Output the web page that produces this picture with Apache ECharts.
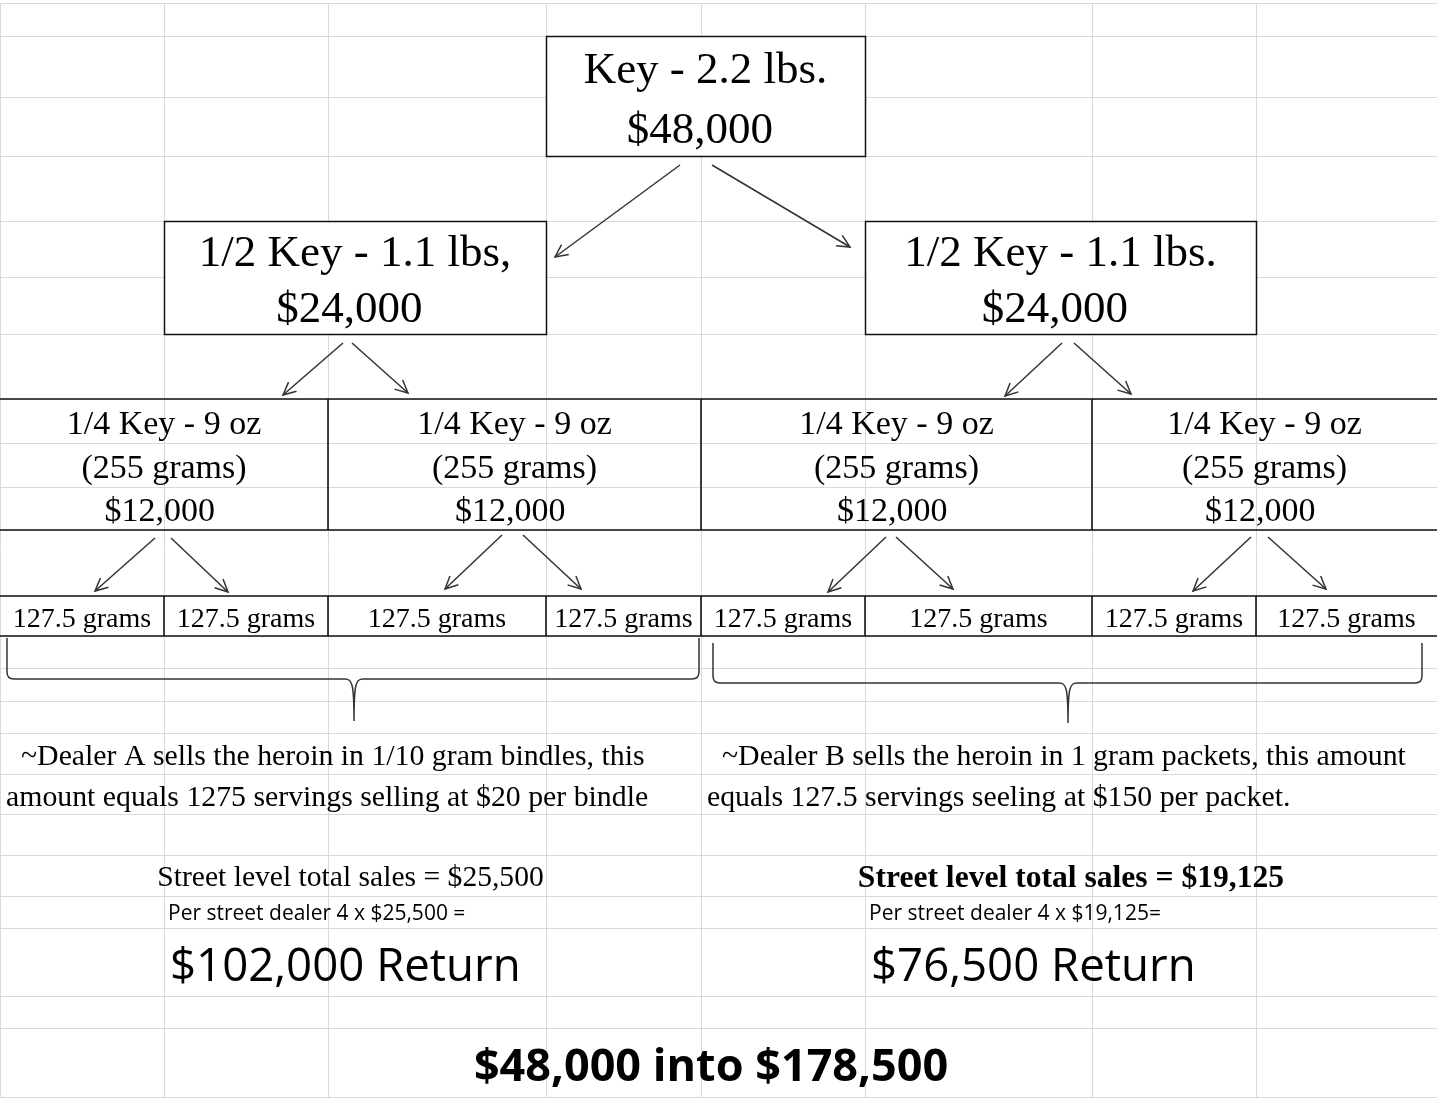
<!DOCTYPE html>
<html>
<head>
<meta charset="utf-8">
<title>Key breakdown</title>
<script src="https://cdn.jsdelivr.net/npm/echarts@6/dist/echarts.min.js"></script>
<style>
html, body { margin: 0; padding: 0; background: #fff; }
#chart { width: 1437px; height: 1099px; }
</style>
</head>
<body>
<div id="chart"></div>
<script>
// sheet geometry: column and row boundaries
const colEdges = [0, 164, 328, 546, 701, 865, 1092, 1256, 1437];
const rowEdges = [3, 36, 97, 156, 221, 277, 334, 399, 443, 487, 530, 596, 636, 668, 701, 733, 774, 814, 855, 896, 928, 996, 1028, 1097];

// labels
const topLabel = ['Key - 2.2 lbs.', '$48,000 '];
const halfLabels = [['1/2 Key - 1.1 lbs,', '$24,000 '], ['1/2 Key - 1.1 lbs.', '$24,000 ']];
const quarterLabel = ['1/4 Key - 9 oz', '(255 grams)', '$12,000 '];
const splitLabel = '127.5 grams';
const dealerNotes = [
  ['~Dealer A sells the heroin in 1/10 gram bindles, this', 'amount equals 1275 servings selling at $20 per bindle'],
  ['~Dealer B sells the heroin in 1 gram packets, this amount', 'equals 127.5 servings seeling at $150 per packet.']
];
const streetSales = ['Street level total sales = $25,500', 'Street level total sales = $19,125'];
const perDealer = ['Per street dealer 4 x $25,500 =', 'Per street dealer 4 x $19,125='];
const returns = ['$102,000 Return', '$76,500 Return'];
const summary = '$48,000 into $178,500';

// arrows: [fromX, fromY, toX, toY]
const arrows = [
  [680, 165, 555, 257], [712, 165, 850, 247],
  [343, 343, 283, 395], [352, 343, 408, 393],
  [1062, 343, 1005, 396], [1074, 343, 1131, 394],
  [155, 538, 95, 591], [171, 538, 228, 592],
  [502, 535, 445, 589], [523, 535, 581, 589],
  [886, 537, 828, 592], [896, 537, 953, 589],
  [1251, 537, 1193, 591], [1268, 537, 1326, 589]
];
// braces: [left, right, top, bar, tipX, tipY]
const braces = [[7, 699, 638, 679, 354, 721], [713, 1422, 643, 683, 1068, 723]];

const serif = '"Liberation Serif", "Times New Roman", serif';
const sans = '"Open Sans", sans-serif';
const fonts = {
  box: '45px ' + serif,
  quarter: '34px ' + serif,
  split: '28px ' + serif,
  note: '29.8px ' + serif,
  sales: '29.6px ' + serif,
  salesBold: 'bold 31.6px ' + serif,
  per: '21px ' + sans,
  ret: '45.6px ' + sans,
  total: 'bold 45px ' + sans
};

const mid = (a, b) => (a + b) / 2;
const texts = [];
function addText(x, y, text, kind, align) {
  texts.push({ x: x, y: y, text: text, kind: kind, align: align || 'center' });
}

// merged boxes (col span, row span)
const boxes = [[3, 5, 1, 3], [1, 3, 4, 6], [5, 7, 4, 6]];
const boxLabels = [topLabel, halfLabels[0], halfLabels[1]];
boxes.forEach(function (b, i) {
  const cx = mid(colEdges[b[0]], colEdges[b[1]]);
  addText(cx, mid(rowEdges[b[2]], rowEdges[b[2] + 1]) + 5, boxLabels[i][0], 'box');
  addText(cx, mid(rowEdges[b[2] + 1], rowEdges[b[3]]) + 5, boxLabels[i][1], 'box');
});

// quarter cells
for (let q = 0; q < 4; q++) {
  const cx = mid(colEdges[q * 2], colEdges[q * 2 + 2]);
  quarterLabel.forEach(function (s, k) {
    addText(cx, mid(rowEdges[7 + k], rowEdges[8 + k]) + 4, s, 'quarter');
  });
}
// split cells
for (let c = 0; c < 8; c++) {
  addText(mid(colEdges[c], colEdges[c + 1]), mid(rowEdges[11], rowEdges[12]) + 4, splitLabel, 'split');
}
// dealer notes, sales and returns (left half from col 0, right half from col 4)
[0, 4].forEach(function (c0, i) {
  const left = colEdges[c0];
  addText(left + 21, mid(rowEdges[15], rowEdges[16]) + 4, dealerNotes[i][0], 'note', 'left');
  addText(left + 6, mid(rowEdges[16], rowEdges[17]) + 4, dealerNotes[i][1], 'note', 'left');
  addText(mid(left, colEdges[c0 + 4]) + (i ? 2 : 0), mid(rowEdges[18], rowEdges[19]) + 3, streetSales[i], i ? 'salesBold' : 'sales');
  addText(colEdges[c0 + 1] + 4, mid(rowEdges[19], rowEdges[20]) + 2, perDealer[i], 'per', 'left');
  addText(colEdges[c0 + 1] + 6, mid(rowEdges[20], rowEdges[21]) + 6, returns[i], 'ret', 'left');
});
addText(mid(colEdges[1], colEdges[7]) + 1, mid(rowEdges[22], rowEdges[23]) + 6, summary, 'total');

// black rules of the lower tiers
const rules = [];
[7, 10, 11, 12].forEach(function (r) {
  rules.push([colEdges[0], rowEdges[r], colEdges[8], rowEdges[r]]);
});
[2, 4, 6].forEach(function (c) {
  rules.push([colEdges[c], rowEdges[7], colEdges[c], rowEdges[10]]);
});
for (let c = 1; c < 8; c++) {
  rules.push([colEdges[c], rowEdges[11], colEdges[c], rowEdges[12]]);
}

// light sheet gridlines
const gridSegs = [];
colEdges.slice(0, 8).forEach(function (x) {
  gridSegs.push([x, rowEdges[0], x, rowEdges[rowEdges.length - 1]]);
});
rowEdges.forEach(function (y) {
  gridSegs.push([colEdges[0], y, colEdges[8], y]);
});

const chart = echarts.init(document.getElementById('chart'));

function segItem(api, color, width, crisp) {
  const a = api.coord([api.value(0), api.value(1)]);
  const b = api.coord([api.value(2), api.value(3)]);
  const o = crisp ? 0.5 : 0;
  return {
    type: 'line',
    shape: { x1: Math.round(a[0]) + o, y1: Math.round(a[1]) + o, x2: Math.round(b[0]) + o, y2: Math.round(b[1]) + o },
    style: { stroke: color, lineWidth: width }
  };
}

const option = {
  animation: false,
  backgroundColor: '#ffffff',
  grid: { left: 0, right: 0, top: 0, bottom: 0 },
  xAxis: { type: 'value', min: 0, max: 1437, show: false },
  yAxis: { type: 'value', min: 0, max: 1099, inverse: true, show: false },
  series: [
    {
      type: 'custom',
      silent: true,
      clip: false,
      z: 1,
      data: gridSegs,
      renderItem: function (params, api) {
        return segItem(api, '#d9d9d9', 1, true);
      }
    },
    {
      type: 'custom',
      silent: true,
      clip: false,
      z: 2,
      data: boxes.map(function (b) {
        return [colEdges[b[0]], rowEdges[b[2]], colEdges[b[1]], rowEdges[b[3]]];
      }),
      renderItem: function (params, api) {
        const a = api.coord([api.value(0), api.value(1)]);
        const b = api.coord([api.value(2), api.value(3)]);
        return {
          type: 'rect',
          shape: { x: Math.round(a[0]) + 0.5, y: Math.round(a[1]) + 0.5, width: Math.round(b[0] - a[0]), height: Math.round(b[1] - a[1]) },
          style: { fill: '#fff', stroke: '#111', lineWidth: 1.5 }
        };
      }
    },
    {
      type: 'custom',
      silent: true,
      clip: false,
      z: 3,
      data: rules,
      renderItem: function (params, api) {
        return segItem(api, '#111', 1.6, false);
      }
    },
    {
      type: 'custom',
      silent: true,
      clip: false,
      z: 4,
      data: arrows,
      renderItem: function (params, api) {
        const a = api.coord([api.value(0), api.value(1)]);
        const b = api.coord([api.value(2), api.value(3)]);
        const ang = Math.atan2(a[1] - b[1], a[0] - b[0]);
        const len = 14, spread = 0.45;
        const h1 = [b[0] + len * Math.cos(ang + spread), b[1] + len * Math.sin(ang + spread)];
        const h2 = [b[0] + len * Math.cos(ang - spread), b[1] + len * Math.sin(ang - spread)];
        const st = { stroke: '#333', lineWidth: 1.5, fill: null };
        return {
          type: 'group',
          children: [
            { type: 'line', shape: { x1: a[0], y1: a[1], x2: b[0], y2: b[1] }, style: st },
            { type: 'polyline', shape: { points: [h1, b, h2] }, style: st }
          ]
        };
      }
    },
    {
      type: 'custom',
      silent: true,
      clip: false,
      z: 4,
      data: braces,
      renderItem: function (params, api) {
        const tl = api.coord([api.value(0), api.value(2)]);
        const br = api.coord([api.value(1), api.value(3)]);
        const tip = api.coord([api.value(4), api.value(5)]);
        const L = tl[0], R = br[0], T = tl[1], B = br[1], X = tip[0], Y = tip[1];
        const r = 7, t = 9;
        const d = [
          'M', L, T, 'L', L, B - r, 'Q', L, B, L + r, B,
          'L', X - t, B, 'C', X - 2, B, X, B + 4, X, Y,
          'C', X, B + 4, X + 2, B, X + t, B,
          'L', R - r, B, 'Q', R, B, R, B - r, 'L', R, T
        ].join(' ');
        return {
          type: 'path',
          shape: { pathData: d },
          style: { stroke: '#333', lineWidth: 1.5, fill: null }
        };
      }
    },
    {
      type: 'custom',
      silent: true,
      clip: false,
      z: 5,
      data: texts.map(function (t) { return [t.x, t.y]; }),
      renderItem: function (params, api) {
        const t = texts[params.dataIndex];
        const p = api.coord([api.value(0), api.value(1)]);
        return {
          type: 'text',
          x: p[0],
          y: p[1],
          style: {
            text: t.text,
            font: fonts[t.kind],
            fill: '#000',
            align: t.align,
            verticalAlign: 'middle'
          }
        };
      }
    }
  ]
};
chart.setOption(option);
</script>
</body>
</html>
